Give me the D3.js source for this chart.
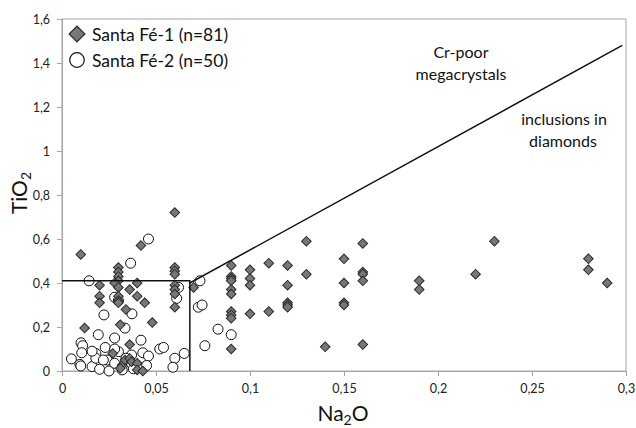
<!DOCTYPE html>
<html>
<head>
<meta charset="utf-8">
<script src="https://cdn.jsdelivr.net/npm/d3@7"></script>
<style>
  body { margin: 0; background: #fff; }
  svg { display: block; font-family: Lato, "Open Sans", sans-serif; }
</style>
</head>
<body>
<svg id="chart" width="636" height="428"></svg>
<script>
// Santa Fé-1 (diamonds)
const sf1Na2O = [
    0.01, 0.012, 0.02, 0.02, 0.02,
    0.03, 0.03, 0.03, 0.03, 0.028, 0.03, 0.03, 0.03, 0.03,
    0.034, 0.031, 0.036, 0.04, 0.04, 0.044, 0.042, 0.048, 0.036, 0.027,
    0.032, 0.0335, 0.036, 0.031, 0.037, 0.04, 0.04, 0.043,
    0.06, 0.06, 0.06, 0.06, 0.06, 0.06, 0.06, 0.06, 0.07,
    0.09, 0.09, 0.09, 0.09, 0.09, 0.09, 0.09, 0.09, 0.09, 0.09,
    0.1, 0.1, 0.1, 0.1,
    0.11, 0.11,
    0.12, 0.12, 0.12, 0.12, 0.12,
    0.13, 0.13,
    0.14,
    0.15, 0.15, 0.15, 0.15,
    0.16, 0.16, 0.16, 0.16, 0.16,
    0.19, 0.19,
    0.22, 0.23,
    0.28, 0.28, 0.29
];
const sf1TiO2 = [
    0.53, 0.195, 0.39, 0.34, 0.31,
    0.47, 0.45, 0.43, 0.41, 0.40, 0.38, 0.34, 0.32, 0.31,
    0.28, 0.21, 0.37, 0.40, 0.34, 0.31, 0.57, 0.22, 0.12, 0.08,
    0.027, 0.05, 0.057, 0.012, 0.042, 0.035, 0.005, 0.0,
    0.72, 0.47, 0.455, 0.44, 0.39, 0.37, 0.35, 0.29, 0.38,
    0.48, 0.43, 0.42, 0.41, 0.37, 0.35, 0.27, 0.255, 0.24, 0.10,
    0.46, 0.42, 0.39, 0.26,
    0.49, 0.27,
    0.48, 0.39, 0.31, 0.30, 0.29,
    0.59, 0.44,
    0.11,
    0.51, 0.40, 0.31, 0.30,
    0.58, 0.45, 0.44, 0.41, 0.12,
    0.41, 0.37,
    0.44, 0.59,
    0.51, 0.46, 0.40
];

// Santa Fé-2 (circles)
const sf2Na2O = [
    0.046, 0.0365, 0.0144, 0.0734, 0.028, 0.03, 0.061, 0.062, 0.0223, 0.0372,
    0.0335, 0.0725, 0.0745, 0.083, 0.09, 0.076, 0.0193, 0.028, 0.0101, 0.011,
    0.042, 0.052, 0.054, 0.065, 0.023, 0.018, 0.03, 0.043, 0.046, 0.0105,
    0.005, 0.0095, 0.01, 0.016, 0.02, 0.025, 0.032, 0.024, 0.028, 0.037,
    0.06, 0.059, 0.037, 0.034, 0.018, 0.038, 0.016, 0.022, 0.028, 0.045
];
const sf2TiO2 = [
    0.60, 0.49, 0.41, 0.41, 0.335, 0.32, 0.33, 0.38, 0.255, 0.26,
    0.195, 0.29, 0.30, 0.19, 0.165, 0.115, 0.165, 0.15, 0.128, 0.115,
    0.14, 0.10, 0.107, 0.08, 0.107, 0.08, 0.088, 0.083, 0.068, 0.083,
    0.055, 0.03, 0.023, 0.02, 0.008, 0.0, 0.005, 0.05, 0.035, 0.032,
    0.058, 0.017, 0.073, 0.058, 0.058, 0.01, 0.09, 0.05, 0.10, 0.025
];

// field boundaries
const boxNa2O = [0, 0.068, 0.068];
const boxTiO2 = [0.41, 0.41, 0];
const diagNa2O = [0.068, 0.298];
const diagTiO2 = [0.40, 1.48];

const xTicks = [0, 0.05, 0.1, 0.15, 0.2, 0.25, 0.3];
const yTicks = [0, 0.2, 0.4, 0.6, 0.8, 1.0, 1.2, 1.4, 1.6];

(() => {
    'use strict';

    const svg = d3.select('#chart');
    const mLeft = 62, mRight = 626, mTop = 19, mBottom = 371;
    const axisColor = '#a6a6a6';
    const textColor = '#222';

    const x = d3.scaleLinear().domain([0, 0.3]).range([mLeft, mRight]);
    const y = d3.scaleLinear().domain([0, 1.6]).range([mBottom, mTop]);
    const fmt = d => String(+d.toFixed(2)).replace('.', ',');

    // plot frame
    svg.append('rect')
        .attr('x', mLeft).attr('y', mTop)
        .attr('width', mRight - mLeft).attr('height', mBottom - mTop)
        .attr('fill', 'none').attr('stroke', axisColor).attr('stroke-width', 1);

    const xAxis = svg.append('g')
        .attr('transform', `translate(0,${mBottom})`)
        .call(d3.axisBottom(x).tickValues(xTicks).tickFormat(fmt).tickSize(5).tickPadding(8));
    const yAxis = svg.append('g')
        .attr('transform', `translate(${mLeft},0)`)
        .call(d3.axisLeft(y).tickValues(yTicks).tickFormat(fmt).tickSize(5).tickPadding(7));

    [xAxis, yAxis].forEach(g => {
        g.select('.domain').attr('stroke', axisColor);
        g.selectAll('.tick line').attr('stroke', axisColor);
        g.selectAll('.tick text').attr('fill', textColor).style('font-size', '12.5px').style('font-family', 'Lato, sans-serif');
    });

    // circles
    svg.append('g').selectAll('circle')
        .data(d3.range(sf2Na2O.length))
        .enter()
        .append('circle')
        .attr('cx', i => x(sf2Na2O[i]))
        .attr('cy', i => y(sf2TiO2[i]))
        .attr('r', 5)
        .attr('fill', '#fff')
        .attr('stroke', '#111')
        .attr('stroke-width', 1);

    // diamonds
    const diamond = d3.symbol().type(d3.symbolSquare).size(46);
    svg.append('g').selectAll('path')
        .data(d3.range(sf1Na2O.length))
        .enter()
        .append('path')
        .attr('d', diamond)
        .attr('transform', i => `translate(${x(sf1Na2O[i])},${y(sf1TiO2[i])}) rotate(45)`)
        .attr('fill', '#777')
        .attr('stroke', '#2a2a2a')
        .attr('stroke-width', 1);

    // boundary lines
    const line = d3.line().x(d => x(d[0])).y(d => y(d[1]));
    svg.append('path')
        .attr('d', line(boxNa2O.map((v, i) => [v, boxTiO2[i]])))
        .attr('fill', 'none').attr('stroke', '#111').attr('stroke-width', 1.5);
    svg.append('path')
        .attr('d', line(diagNa2O.map((v, i) => [v, diagTiO2[i]])))
        .attr('fill', 'none').attr('stroke', '#111').attr('stroke-width', 1.5);

    // field labels
    const label = (tx, ty, str) => svg.append('text')
        .attr('x', tx).attr('y', ty)
        .attr('text-anchor', 'middle')
        .attr('fill', '#111')
        .style('font-size', '16px')
        .text(str);
    label(461, 58, 'Cr-poor');
    label(461, 80, 'megacrystals');
    label(564, 125, 'inclusions in');
    label(563, 147, 'diamonds');

    // legend
    const legendDiamond = d3.symbol().type(d3.symbolSquare).size(125);
    svg.append('path')
        .attr('d', legendDiamond)
        .attr('transform', 'translate(77,34) rotate(45)')
        .attr('fill', '#777').attr('stroke', '#2a2a2a').attr('stroke-width', 1.2);
    svg.append('circle')
        .attr('cx', 77).attr('cy', 60).attr('r', 7.3)
        .attr('fill', '#fff').attr('stroke', '#111').attr('stroke-width', 1.2);
    svg.append('text').attr('x', 92).attr('y', 41)
        .attr('fill', '#111').style('font-size', '17.5px').text('Santa Fé-1 (n=81)');
    svg.append('text').attr('x', 92).attr('y', 67)
        .attr('fill', '#111').style('font-size', '17.5px').text('Santa Fé-2 (n=50)');

    // axis titles
    svg.append('text')
        .attr('transform', 'translate(27,193) rotate(-90)')
        .attr('text-anchor', 'middle')
        .attr('fill', '#111')
        .style('font-size', '21px')
        .html('TiO<tspan dy="4" font-size="14px">2</tspan>');
    svg.append('text')
        .attr('x', 343).attr('y', 421)
        .attr('text-anchor', 'middle')
        .attr('fill', '#111')
        .style('font-size', '21px')
        .html('Na<tspan dy="4" font-size="14px">2</tspan><tspan dy="-4">O</tspan>');
})();
</script>
</body>
</html>
